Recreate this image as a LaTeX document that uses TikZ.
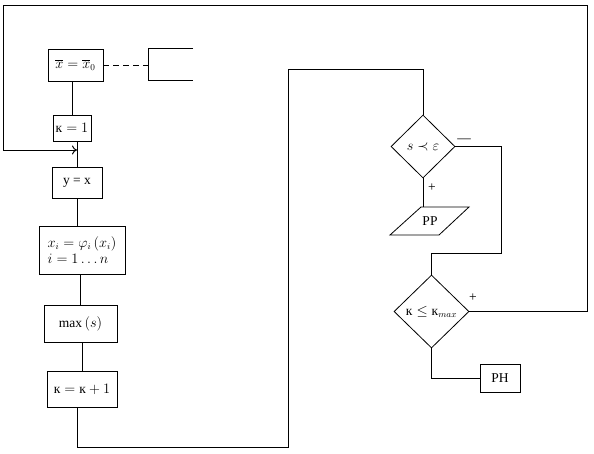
\documentclass[tikz,border=0pt]{standalone}
\usepackage{amsmath,amssymb}
\usepackage{fontspec}
\setmainfont{Liberation Serif}
\usetikzlibrary{arrows,arrows.meta,shapes.geometric}

\tikzset{
  blk/.style={draw, rectangle, inner sep=1pt},
  cond/.style={draw, diamond, aspect=1, inner sep=0pt},
  lbl/.style={inner sep=0pt}
}

\begin{document}
\begin{tikzpicture}[x=1pt,y=-1pt,line width=.8pt,font=\fontsize{13.5}{16}\selectfont]
			\useasboundingbox (0,0) rectangle (594,453);
			
			% left column
			\node[blk, minimum width=55pt, minimum height=32pt] (x0) at (75.5,65) {$\overline{x}=\overline{x}_0$};
			\node[blk, minimum width=38pt, minimum height=26pt] (k1) at (72,128) {$\text{к}=1$};
			\node[blk, minimum width=50pt, minimum height=31pt] (yx) at (77,183) {у = х};
			\node[blk, minimum width=86pt, minimum height=48pt, align=left] (xi) at (82,250) {$x_i=\varphi_i\left(x_i\right)$\\ $i=1\ldots n$};
			\node[blk, minimum width=73pt, minimum height=37pt] (mx) at (80.5,323.5) {$\max\left(s\right)$};
			\node[blk, minimum width=70pt, minimum height=36pt] (kk) at (82,389) {$\text{к}=\text{к}+1$};
			
			\draw (193,48) -- (148,48) -- (148,80) -- (193,80); \coordinate (ob) at (148,65);
			\draw [dashed, dash pattern=on 6pt off 4pt] (x0.east) -- (x0.east -| ob);
			
			\draw (x0.south -| k1) -- (k1.north);
			\coordinate (in) at (77,150);
			\draw (k1.south -| in) -- (yx.north -| in);
			\draw (yx.south) -- (xi.north -| yx);
			\draw (xi.south -| mx) -- (mx.north);
			\draw (mx.south -| kk) -- (kk.north);
			
			% right column
			\node[cond, minimum width=64pt, minimum height=63pt] (d1) at (423,146.5) {$s\prec\varepsilon$};
			\node[lbl] (pp) at (430,221) {РР};
			\draw (421,207) -- (469,207) -- (439,235) -- (390,235) -- cycle; \coordinate (pptop) at (423,207);
			\node[cond, minimum width=75pt, minimum height=73pt] (d2) at (431.5,311.5) {$\text{к}\leq\text{к}_{max}$};
			\node[blk, minimum width=40pt, minimum height=28pt] (ph) at (500,378) {РН};
			
			\node[lbl] (no1) at (464,141) {—};
			\node[lbl] (yes1) at (432,188) {+};
			\node[lbl] (yes2) at (473,298) {+};
			
			\draw (d1.south) -- (pptop);
			\draw (d1.east) -- (501,146.5) -- (501,253) -- (d2.north |- 0,253) -- (d2.north);
			\draw (d2.south) -- (d2.south |- ph.west) -- (ph.west);
			
			% loops
			\draw (kk.south -| in) -- (77,447) -- (288,447) -- (288,69) -- (d1.north |- 0,69) -- (d1.north);
			\draw [-{To[length=5pt,width=9pt]}, line width=1pt] (d2.east) -- (587,311.5) -- (587,5) -- (3,5) -- (3,150) -- (in);
\end{tikzpicture}
\end{document}
